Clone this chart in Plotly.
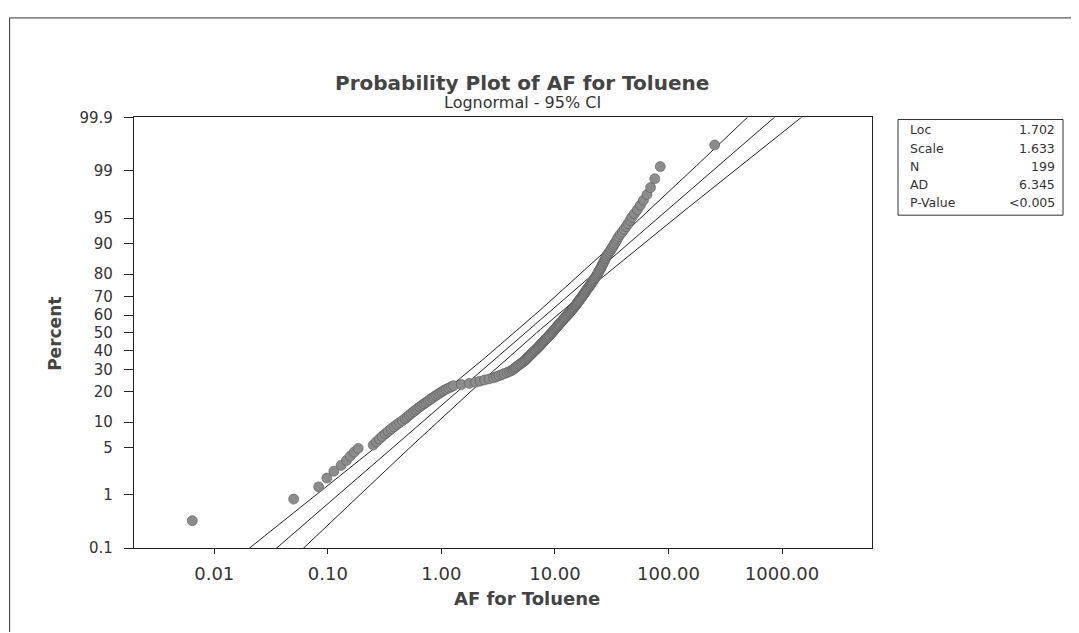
import math
from statistics import NormalDist
import plotly.graph_objects as go

# ---------------- data ----------------
af_values = [
    0.0064, 0.050, 0.083, 0.098, 0.113, 0.131, 0.146, 0.158, 0.171, 0.185,
    0.251, 0.267, 0.284, 0.301, 0.320, 0.340, 0.360, 0.382, 0.404, 0.428,
    0.453, 0.479, 0.501, 0.522, 0.545, 0.569, 0.593, 0.618, 0.645, 0.673,
    0.702, 0.731, 0.762, 0.793, 0.826, 0.859, 0.895, 0.931, 0.970, 1.01,
    1.05, 1.10, 1.16, 1.22, 1.28, 1.50, 1.76, 2.00, 2.19, 2.40,
    2.63, 2.88, 3.05, 3.22, 3.40, 3.58, 3.78, 3.98, 4.16, 4.27,
    4.39, 4.51, 4.62, 4.74, 4.87, 5.00, 5.13, 5.27, 5.41, 5.51,
    5.61, 5.72, 5.83, 5.94, 6.05, 6.17, 6.28, 6.41, 6.53, 6.65,
    6.78, 6.91, 7.05, 7.16, 7.29, 7.41, 7.54, 7.66, 7.80, 7.93,
    8.06, 8.20, 8.34, 8.48, 8.62, 8.77, 8.91, 9.06, 9.22, 9.37,
    9.51, 9.66, 9.82, 9.98, 10.1, 10.3, 10.4, 10.6, 10.8, 10.9,
    11.1, 11.3, 11.5, 11.7, 11.9, 12.0, 12.2, 12.4, 12.6, 12.9,
    13.1, 13.3, 13.5, 13.7, 13.9, 14.2, 14.4, 14.6, 14.8, 15.1,
    15.3, 15.5, 15.7, 16.0, 16.2, 16.4, 16.7, 16.9, 17.2, 17.4,
    17.7, 17.9, 18.2, 18.5, 18.7, 19.0, 19.3, 19.6, 20.0, 20.3,
    20.6, 20.9, 21.3, 21.6, 21.9, 22.3, 22.6, 23.0, 23.3, 23.7,
    24.0, 24.4, 24.7, 25.1, 25.5, 25.8, 26.2, 26.6, 27.0, 27.4,
    27.8, 28.2, 28.6, 29.3, 30.0, 30.8, 31.5, 32.3, 33.0, 33.8,
    34.7, 35.5, 36.4, 37.6, 39.2, 40.7, 42.4, 44.0, 45.7, 47.5,
    50.1, 53.2, 56.5, 60.1, 64.7, 69.5, 75.7, 84.6, 255.0,
]

fit_loc = 1.702
fit_scale = 1.633
fit_n = 199
stat_labels = ["Loc", "Scale", "N", "AD", "P-Value"]
stat_texts = ["1.702", "1.633", "199", "6.345", "<0.005"]

percent_ticks = [0.1, 1, 5, 10, 20, 30, 40, 50, 60, 70, 80, 90, 95, 99, 99.9]
percent_tick_text = ["0.1", "1", "5", "10", "20", "30", "40", "50", "60",
                     "70", "80", "90", "95", "99", "99.9"]
x_tick_vals = [0.01, 0.1, 1, 10, 100, 1000]
x_tick_text = ["0.01", "0.10", "1.00", "10.00", "100.00", "1000.00"]

# ---------------- derived ----------------
nd = NormalDist()
n = len(af_values)
xs = sorted(af_values)
zs = [nd.inv_cdf((i - 0.3) / (n + 0.4)) for i in range(1, n + 1)]

z_grid = [-3.4 + 0.05 * k for k in range(137)]
fit_mid, fit_lo, fit_hi = [], [], []
for z in z_grid:
    m = fit_loc + fit_scale * z
    se = fit_scale * math.sqrt((1 + z * z / 2.0) / fit_n)
    fit_mid.append(math.exp(m))
    fit_lo.append(math.exp(m - 1.96 * se))
    fit_hi.append(math.exp(m + 1.96 * se))

W, H = 1079, 633
# page offset / scale compensation (as observed on the rendered page)
OX, OY, SY = 8.0, 15.2, 0.9745


def px(tx):
    return (tx - OX) / W


def py(ty):
    return 1 - ((ty - OY) / SY) / H


fig = go.Figure()
for arr in (fit_lo, fit_mid, fit_hi):
    fig.add_trace(go.Scatter(x=arr, y=z_grid, mode="lines",
                             line=dict(color="#222222", width=1),
                             hoverinfo="skip", showlegend=False))
fig.add_trace(go.Scatter(
    x=xs, y=zs, mode="markers",
    marker=dict(size=10, color="#8c8c8c", line=dict(color="#5a5a5a", width=0.6)),
    showlegend=False, cliponaxis=False))

z_lo = nd.inv_cdf(0.001)
z_hi = nd.inv_cdf(0.999)

fig.update_layout(
    width=W, height=H,
    margin=dict(l=0, r=0, t=0, b=0),
    paper_bgcolor="white", plot_bgcolor="white",
    font=dict(family="DejaVu Sans", color="#222222"),
    xaxis=dict(
        type="log", domain=[px(134), px(872)],
        range=[-2.707, 3.792],
        tickvals=x_tick_vals, ticktext=x_tick_text,
        tickfont=dict(size=18, family="DejaVu Sans", color="#333333"),
        ticks="outside", ticklen=5, tickcolor="#222222",
        ticklabelstandoff=4,
        showline=True, linecolor="#222222", linewidth=1.2, mirror=True,
        showgrid=False, zeroline=False,
    ),
    yaxis=dict(
        domain=[py(548), py(116)],
        range=[z_lo, z_hi],
        tickvals=[nd.inv_cdf(p / 100.0) for p in percent_ticks],
        ticktext=percent_tick_text,
        tickfont=dict(size=15, family="DejaVu Sans", color="#333333"),
        ticks="outside", ticklen=9, tickcolor="#222222",
        ticklabelstandoff=8,
        showline=True, linecolor="#222222", linewidth=1.2, mirror=True,
        showgrid=False, zeroline=False,
    ),
)

ann = []
ann.append(dict(text="<b>Probability Plot of AF for Toluene</b>", x=px(522), y=py(81),
                xref="paper", yref="paper", showarrow=False, xanchor="center", yanchor="middle",
                font=dict(size=20, color="#444444", family="DejaVu Sans")))
ann.append(dict(text="Lognormal - 95% CI", x=px(522), y=py(101),
                xref="paper", yref="paper", showarrow=False, xanchor="center", yanchor="middle",
                font=dict(size=16, color="#333333", family="DejaVu Sans")))
ann.append(dict(text="<b>AF for Toluene</b>", x=px(527), y=py(598),
                xref="paper", yref="paper", showarrow=False, xanchor="center", yanchor="middle",
                font=dict(size=18, color="#444444", family="DejaVu Sans")))
ann.append(dict(text="<b>Percent</b>", x=px(55), y=py(333), textangle=-90,
                xref="paper", yref="paper", showarrow=False, xanchor="center", yanchor="middle",
                font=dict(size=17, color="#444444", family="DejaVu Sans")))

row_y = [128, 147, 165, 183, 201]
for lab, val, ry in zip(stat_labels, stat_texts, row_y):
    ann.append(dict(text=lab, x=px(908), y=py(ry), xref="paper", yref="paper",
                    showarrow=False, xanchor="left", yanchor="middle",
                    font=dict(size=12.5, color="#333333", family="DejaVu Sans")))
    ann.append(dict(text=val, x=px(1057), y=py(ry), xref="paper", yref="paper",
                    showarrow=False, xanchor="right", yanchor="middle",
                    font=dict(size=12.5, color="#333333", family="DejaVu Sans")))
fig.update_layout(annotations=ann)

fig.update_layout(shapes=[
    dict(type="rect", xref="paper", yref="paper",
         x0=px(898), x1=px(1063), y0=py(214), y1=py(118),
         line=dict(color="#333333", width=1)),
    dict(type="line", xref="paper", yref="paper",
         x0=0.0015, x1=1.0, y0=0.9985, y1=0.9985,
         line=dict(color="#333333", width=1)),
    dict(type="line", xref="paper", yref="paper",
         x0=0.0015, x1=0.0015, y0=0, y1=0.9985,
         line=dict(color="#333333", width=1)),
])

fig.write_html("out.html")
